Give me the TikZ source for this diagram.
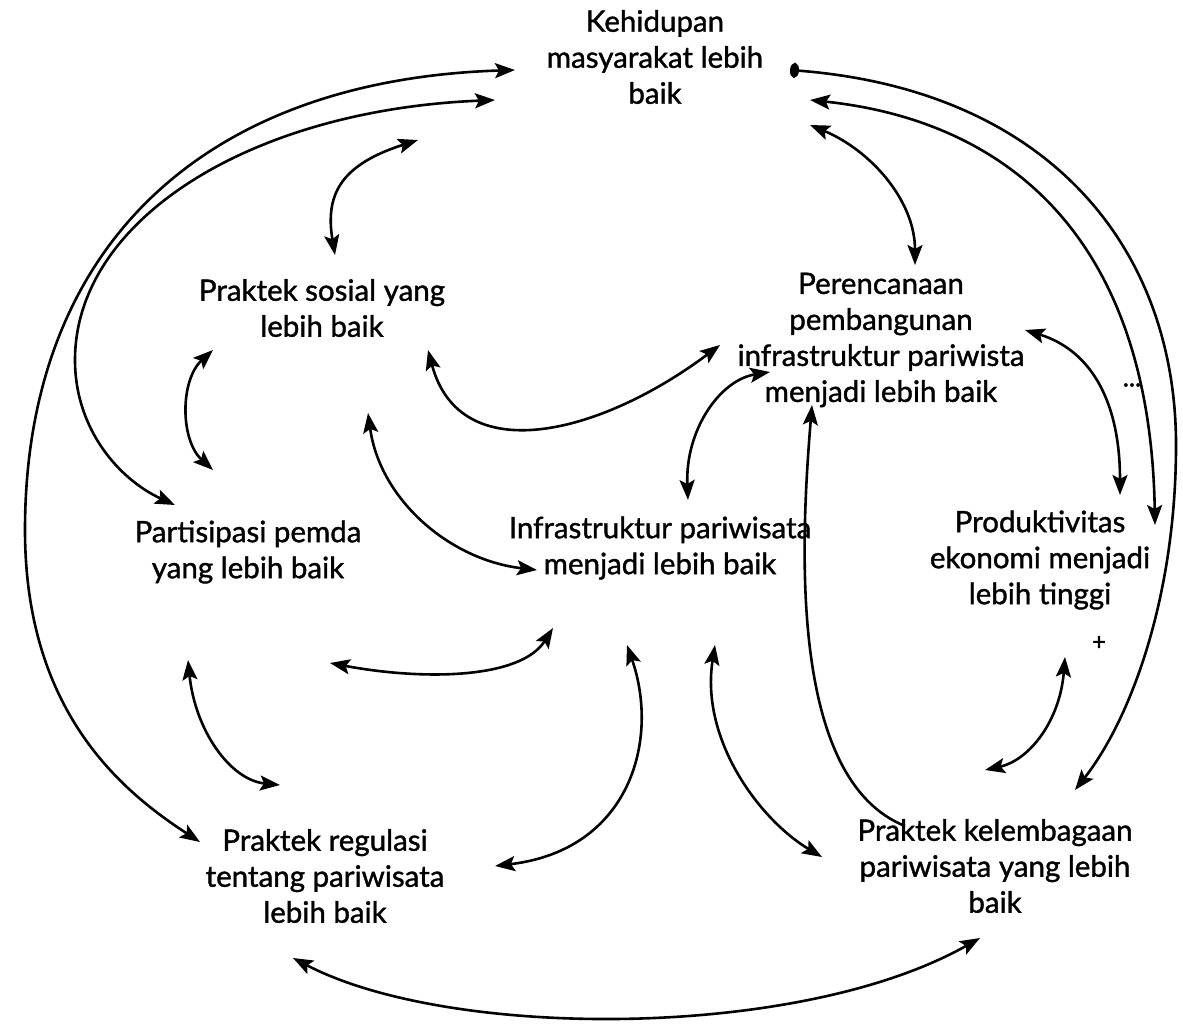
\documentclass[tikz,border=0pt]{standalone}
\usepackage{fontspec}
\setmainfont{Lato}[FakeBold=1.2]
\usetikzlibrary{arrows.meta}
\tikzset{
  lbl/.style={align=center, inner sep=0pt, font=\fontsize{29.5}{36}\selectfont},
  tip/.style={Stealth[length=20pt,width=15pt,inset=4pt]},
  link/.style={line width=2.6pt, {Stealth[length=20pt,width=15pt,inset=4pt]}-{Stealth[length=20pt,width=15pt,inset=4pt]}},
  onelink/.style={line width=2.6pt, -{Stealth[length=20pt,width=15pt,inset=4pt]}},
}
\begin{document}
\begin{tikzpicture}[x=1pt,y=-1pt]
\useasboundingbox[fill=white] (0,0) rectangle (1183,1028);
\node[lbl] (K)  at (655,57)  {Kehidupan\\masyarakat lebih\\baik};
\node[lbl] (S)  at (322,308) {Praktek sosial yang\\lebih baik};
\node[lbl] (P)  at (881,340) {Perencanaan\\pembangunan\\infrastruktur pariwista\\menjadi lebih baik};
\node[lbl] (Pa) at (248,552) {Partisipasi pemda\\yang lebih baik};
\node[lbl] (I)  at (660,548) {Infrastruktur pariwisata\\menjadi lebih baik};
\node[lbl] (Pr) at (1040,560) {Produktivitas\\ekonomi menjadi\\lebih tinggi};
\node[lbl] (R)  at (325,876) {Praktek regulasi\\tentang pariwisata\\lebih baik};
\node[lbl] (L)  at (995,866) {Praktek kelembagaan\\pariwisata yang lebih\\baik};
\node[font=\fontsize{26}{26}\selectfont, inner sep=0pt] (dots) at (1132,385) {...};
\node[font=\fontsize{24}{24}\selectfont, inner sep=0pt] (plus) at (1099,643) {+};

% 1 K - R outer left
\draw[link] ([shift={(-140,13)}]K.center) .. controls (200,80) and (25,250) .. (25,530)
  .. controls (25,710) and (120,790) .. ([shift={(-125,-34)}]R.center);
% 2 K - Pa
\draw[link] ([shift={(-160,43)}]K.center) .. controls (250,110) and (75,220) .. (75,360)
  .. controls (75,430) and (120,480) .. ([shift={(-73,-47)}]Pa.center);
% 3 K - S
\draw[link] ([shift={(-237,83)}]K.center) .. controls (340,165) and (325,195) .. ([shift={(13,-53)}]S.center);
% 4 S - Pa
\draw[link] ([shift={(-109,42)}]S.center) .. controls (180,380) and (180,440) .. ([shift={(-35,-82)}]Pa.center);
% 5 S - P
\draw[link] ([shift={(106,42)}]S.center) .. controls (460,470) and (600,435) .. ([shift={(-161,5)}]P.center);
% 6 S - I
\draw[link] ([shift={(46,105)}]S.center) .. controls (380,500) and (450,560) .. ([shift={(-123,22)}]I.center);
% 7 I - P
\draw[link] ([shift={(28,-48)}]I.center) .. controls (685,430) and (720,380) .. ([shift={(-111,32)}]P.center);
% 8 K - P
\draw[link] ([shift={(155,68)}]K.center) .. controls (870,150) and (915,200) .. ([shift={(34,-75)}]P.center);
% 9 K - L outer right
\draw[line width=2.6pt, {Circle[length=9pt,width=15pt]}-{Stealth[length=20pt,width=15pt,inset=4pt]}]
  ([shift={(135,13)}]K.center) .. controls (1050,90) and (1178,250) .. (1176,450)
  .. controls (1175,600) and (1130,720) .. ([shift={(80,-76)}]L.center);
% 10 K - Pr
\draw[link] ([shift={(155,43)}]K.center) .. controls (1000,120) and (1150,230) .. ([shift={(115,-35)}]Pr.center);
% 11 P - Pr
\draw[link] ([shift={(144,-10)}]P.center) .. controls (1090,350) and (1120,400) .. ([shift={(80,-65)}]Pr.center);
% 12 Pr - L
\draw[link] ([shift={(25,97)}]Pr.center) .. controls (1060,720) and (1030,760) .. ([shift={(-10,-96)}]L.center);
% 13 I - Pa
\draw[link] ([shift={(-107,80)}]I.center) .. controls (520,680) and (420,680) .. ([shift={(82,111)}]Pa.center);
% 14 Pa - R
\draw[link] ([shift={(-60,108)}]Pa.center) .. controls (195,730) and (230,780) .. ([shift={(-45,-91)}]R.center);
% 15 I - R
\draw[link] ([shift={(-33,97)}]I.center) .. controls (660,740) and (630,850) .. ([shift={(170,-10)}]R.center);
% 16 I - L
\draw[link] ([shift={(55,97)}]I.center) .. controls (700,740) and (760,820) .. ([shift={(-173,-9)}]L.center);
% 17 L -> P
\draw[onelink] ([shift={(-90,-40)}]L.center) .. controls (790,780) and (800,550) .. ([shift={(-69,65)}]P.center);
% 18 R - L bottom
\draw[link] ([shift={(-32,82)}]R.center) .. controls (450,1040) and (800,1040) .. ([shift={(-15,72)}]L.center);
\end{tikzpicture}
\end{document}
